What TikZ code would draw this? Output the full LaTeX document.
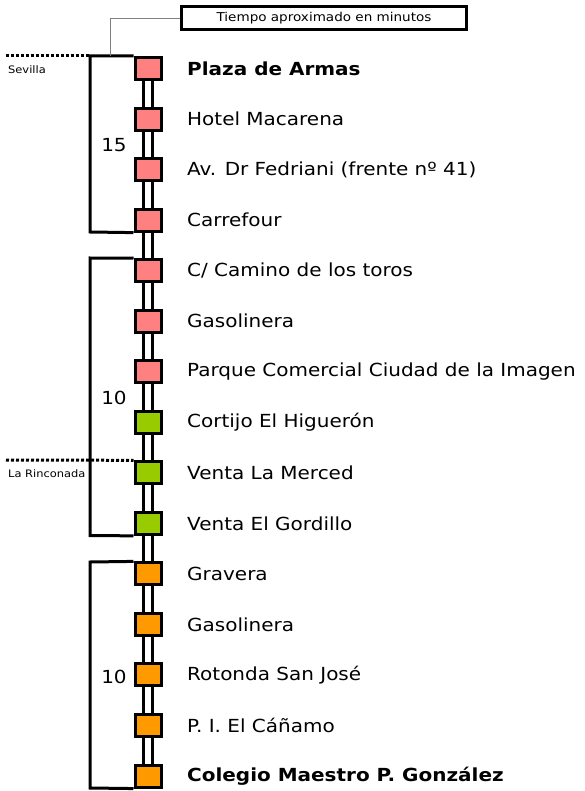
\documentclass[tikz,border=0pt]{standalone}
\usepackage{fontspec}
\setmainfont[FakeStretch=1.11]{DejaVu Sans}
\definecolor{cpink}{HTML}{FF8080}
\definecolor{cgreen}{HTML}{99CC00}
\definecolor{corange}{HTML}{FF9900}
\begin{document}
\begin{tikzpicture}[x=1pt,y=-1pt,
  stop/.style={draw=black,line width=3pt,minimum width=26pt,minimum height=22pt,inner sep=0pt},
  lbl/.style={anchor=west,inner sep=0pt,font=\fontsize{18}{20}\selectfont},
  blbl/.style={lbl,font=\fontsize{18}{20}\selectfont\bfseries},
  num/.style={inner sep=0pt,font=\fontsize{18}{20}\selectfont},
  small/.style={anchor=west,inner sep=0pt,font=\fontsize{10.3}{12}\selectfont},
  rail/.style={line width=3pt},
  brk/.style={line width=3pt},
  dot/.style={line width=3pt,dash pattern=on 3pt off 2pt}]
\useasboundingbox (0,0) rectangle (585,791);
\def\sx{148}
% rails
\coordinate (rt1) at (143.5,68.5);
\coordinate (rb1) at (143.5,776);
\coordinate (rt2) at (152.5,68.5);
\coordinate (rb2) at (152.5,776);
\draw[rail] (rt1) -- (rb1);
\draw[rail] (rt2) -- (rb2);
% stops
\foreach \i/\c/\t/\b in {0/cpink/{Plaza de Armas}/1,1/cpink/{Hotel Macarena}/0,2/cpink/{Av. Dr Fedriani (frente nº 41)}/0,3/cpink/{Carrefour}/0,4/cpink/{C/ Camino de los toros}/0,5/cpink/{Gasolinera}/0,6/cpink/{Parque Comercial Ciudad de la Imagen}/0,7/cgreen/{Cortijo El Higuerón}/0,8/cgreen/{Venta La Merced}/0,9/cgreen/{Venta El Gordillo}/0,10/corange/{Gravera}/0,11/corange/{Gasolinera}/0,12/corange/{Rotonda San José}/0,13/corange/{P. I. El Cáñamo}/0,14/corange/{Colegio Maestro P. González}/1}{
  \pgfmathsetmacro{\yy}{68.5+50.54*\i}
  \node[stop,fill=\c] (s\i) at (\sx,\yy) {};
  \ifnum\b=1
    \node[blbl] (t\i) at (187,\yy) {\t};
  \else
    \node[lbl] (t\i) at (187,\yy) {\t};
  \fi
}
% brackets
\coordinate (b1a) at (90,56);
\coordinate (b1b) at (90,232);
\draw[brk] (s0.north west) -- (b1a) -- (b1b) -- (s3.south west);
\coordinate (b2a) at (90,258);
\coordinate (b2b) at (90,535.5);
\draw[brk] (s4.north west) -- (b2a) -- (b2b) -- (s9.south west);
\coordinate (b3a) at (90,562);
\coordinate (b3b) at (90,788);
\draw[brk] (s10.north west) -- (b3a) -- (b3b) -- (s14.south west);
% numbers
\node[num] (n1) at (114,145) {15};
\node[num] (n2) at (114,398) {10};
\node[num] (n3) at (114,677) {10};
% dotted lines
\coordinate (d1) at (6,56);
\draw[dot] (d1) -- (b1a);
\coordinate (d2) at (6,460);
\draw[dot] (d2) -- (s8.north west);
\node[small] (sev) at (8,70) {Sevilla};
\node[small] (rin) at (8,474) {La Rinconada};
% legend
\node[draw=black,line width=3pt,minimum width=285pt,minimum height=23.5pt,inner sep=0pt,font=\fontsize{12.2}{14}\selectfont] (leg) at (324,18.2) {Tiempo aproximado en minutos};
\coordinate (g1) at (110,56);
\draw[gray,line width=1pt] (g1) |- (leg.west);
\end{tikzpicture}
\end{document}
